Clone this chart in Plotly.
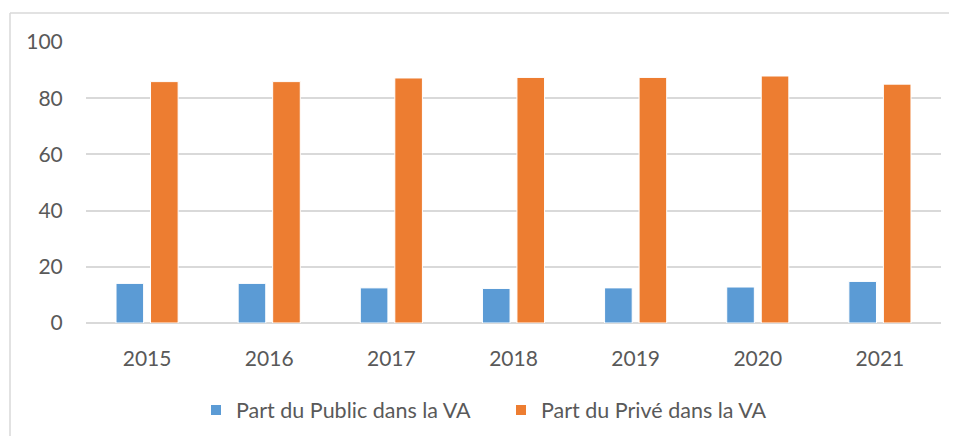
import plotly.graph_objects as go

years = ["2015", "2016", "2017", "2018", "2019", "2020", "2021"]
public_share = [14.1, 14.1, 12.5, 12.3, 12.5, 12.8, 14.8]
private_share = [85.9, 85.9, 87.2, 87.4, 87.4, 87.9, 85.0]
y_ticks = [0, 20, 40, 60, 80, 100]

OFF = 8  # default page body margin
W, H = 957 - OFF, 436 - OFF
# target pixel positions in the screenshot
PL, PR, PT, PB = 86, 941, 42, 323
ml, mt = PL - OFF, PT - OFF
mr = W - (PR - OFF)
mb = H - (PB - OFF)
pw, ph = W - ml - mr, H - mt - mb

def px_x(x):
    return (x - OFF - ml) / pw

def px_y(y):
    return (H - mb - (y - OFF)) / ph

font_family = "Lato, 'Open Sans', sans-serif"
text_color = "#595959"
grid = "#D9D9D9"

fig = go.Figure()
fig.add_trace(go.Bar(x=years, y=public_share, name="Part du Public dans la VA",
                     marker=dict(color="#5B9BD5", line=dict(color="#FFFFFF", width=1))))
fig.add_trace(go.Bar(x=years, y=private_share, name="Part du Privé dans la VA",
                     marker=dict(color="#ED7D31", line=dict(color="#FFFFFF", width=1))))

fig.update_layout(
    width=W, height=H,
    margin=dict(l=ml, r=mr, t=mt, b=mb, autoexpand=False),
    paper_bgcolor="white", plot_bgcolor="white",
    barmode="group", bargap=0.435, bargroupgap=0.2,
    font=dict(family=font_family, size=21, color=text_color),
    showlegend=True,
    legend=dict(orientation="h", x=px_x(196), xanchor="left", y=px_y(410), yanchor="middle",
                font=dict(size=21.5, color=text_color), itemwidth=30, traceorder="normal",
                entrywidth=260, entrywidthmode="pixels",
                itemsizing="constant", bgcolor="rgba(0,0,0,0)"),
    xaxis=dict(showgrid=False, showline=False, ticks="outside", ticklen=17,
               tickcolor="rgba(0,0,0,0)", tickfont=dict(size=21, color=text_color)),
    yaxis=dict(range=[0, 100], tickvals=y_ticks, showgrid=True, gridcolor=grid, gridwidth=2,
               zeroline=True, zerolinecolor=grid, zerolinewidth=2, showline=False,
               ticks="outside", ticklen=18, tickcolor="rgba(0,0,0,0)",
               tickfont=dict(size=21, color=text_color)),
    shapes=[
        dict(type="line", xref="paper", yref="paper", x0=px_x(10), x1=px_x(970),
             y0=px_y(13), y1=px_y(13), line=dict(color="#D9D9D9", width=1.5)),
        dict(type="line", xref="paper", yref="paper", x0=px_x(10), x1=px_x(10),
             y0=px_y(13), y1=px_y(450), line=dict(color="#D9D9D9", width=1.5)),
    ],
)

fig.write_html("out.html")
